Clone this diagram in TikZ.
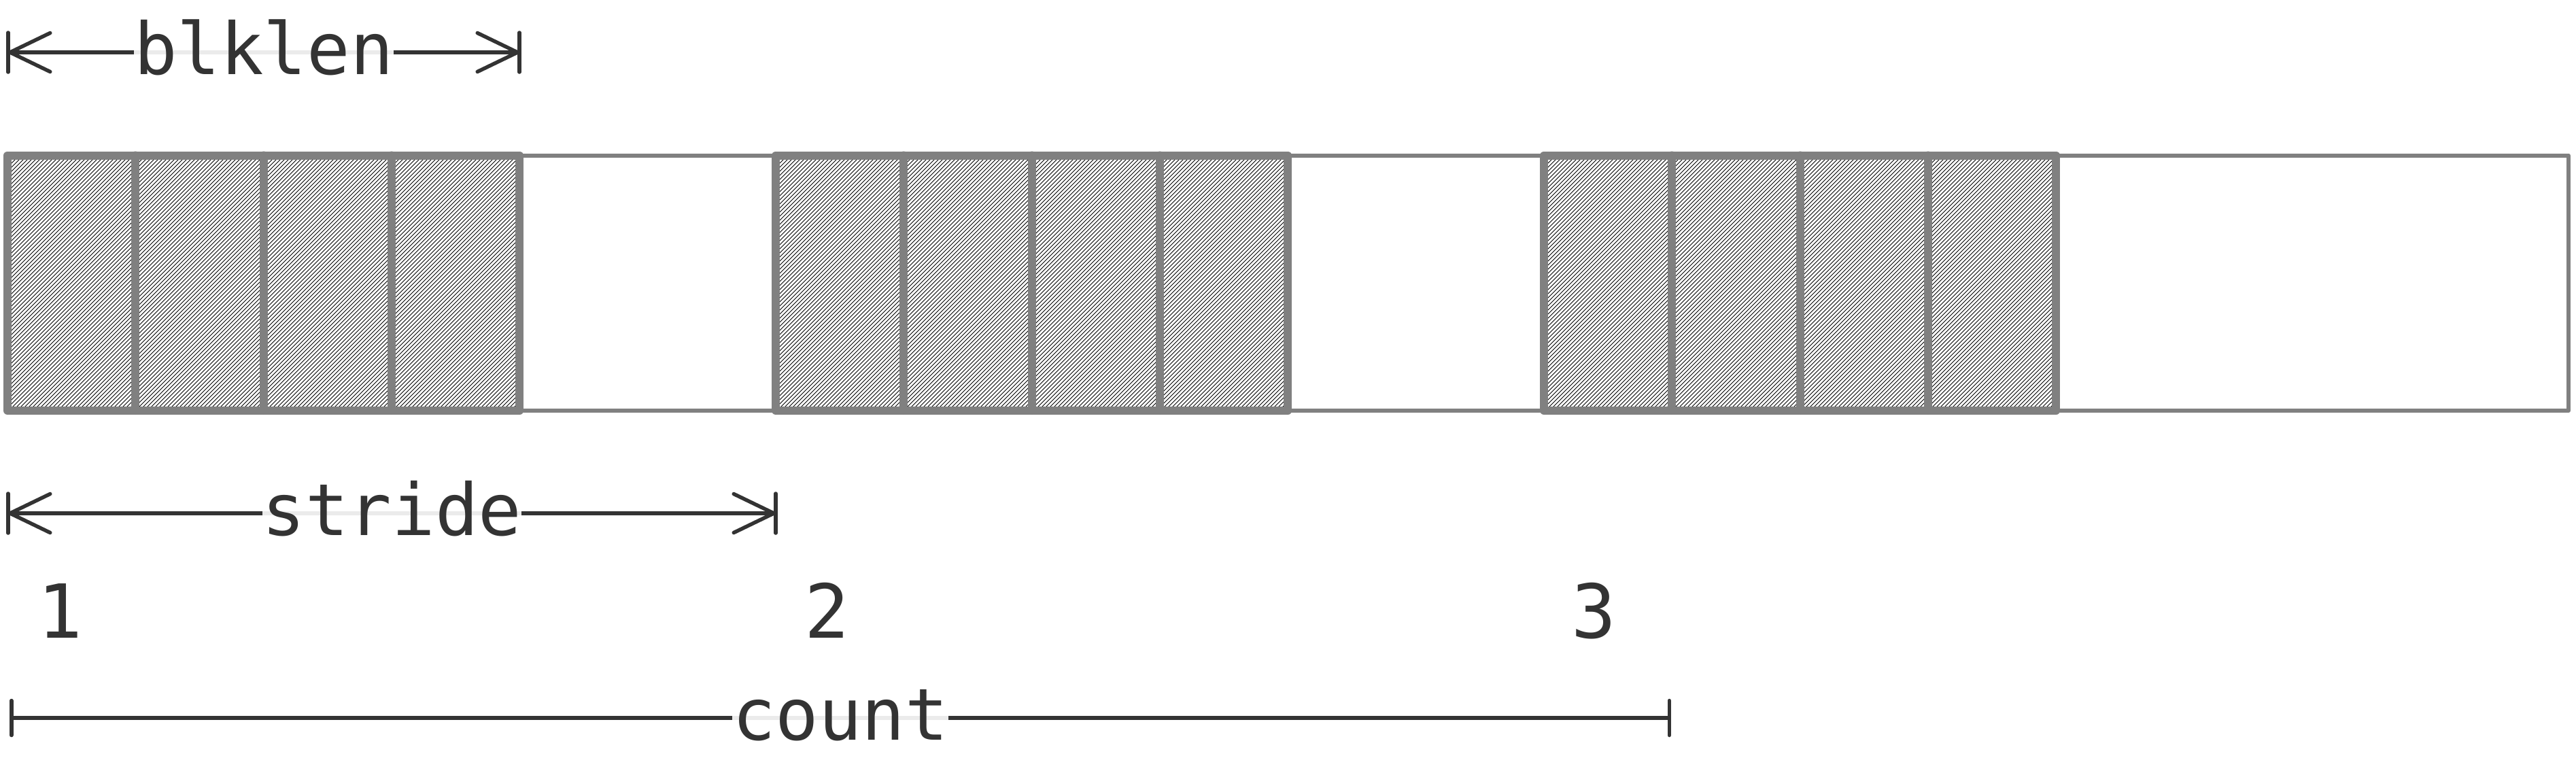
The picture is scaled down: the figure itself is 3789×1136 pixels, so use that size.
\documentclass[tikz,border=0pt]{standalone}
\usepackage{fontspec}
\newfontfamily\monof{DejaVu Sans Mono}
\usetikzlibrary{arrows.meta}
\definecolor{ink}{HTML}{333333}
\definecolor{boxgray}{HTML}{808080}
\begin{document}
\begin{tikzpicture}[x=1bp,y=-1bp,
  dimline/.style={draw=ink, line width=5.5bp, line cap=round},
  dimarrow/.style={dimline, {Straight Barb[length=59bp,width=57bp,line width=5.5bp,round]}-{Straight Barb[length=59bp,width=57bp,line width=5.5bp,round]}},
  dimbar/.style={dimline, {Bar[width=51bp,line width=5.5bp,round]}-{Bar[width=51bp,line width=5.5bp,round]}},
  endbar/.style={draw=ink, line width=5.5bp, line cap=round},
  lbl/.style={font=\monof\fontsize{106}{127}\selectfont, text=ink, fill=white, fill opacity=0.9, text opacity=1, inner sep=0pt, anchor=base, yshift=-32bp},
  num/.style={font=\monof\fontsize{110}{132}\selectfont, text=ink, inner sep=0pt, anchor=base},
  thinbox/.style={draw=boxgray, line width=6bp, line join=round},
  blockbox/.style={draw=boxgray, line width=12bp, line join=round, line cap=round},
  hatchline/.style={draw=black, line width=0.9bp}
]
\useasboundingbox (0,0) rectangle (3789,1136);
% thin outer strip
\draw[thinbox] (11,228.5) rectangle (3778,604);
% hatching of the three blocks
\foreach \bx in {11,1141,2271} {
  \begin{scope}
    \clip (\bx,228.5) rectangle ++(753.4,375.5);
    \foreach \i in {0,...,190}
      \draw[hatchline] ({\bx-375.5+6*\i},603.5) -- ({\bx+6*\i},228);
  \end{scope}
}
% block outlines and cell dividers
\foreach \bx in {11,1141,2271} {
  \draw[blockbox] (\bx,228.5) rectangle ++(753.4,375.5);
  \foreach \k in {1,2,3}
    \draw[blockbox] ({\bx+188.35*\k},228.5) -- ++(0,375.5);
}
% dimension lines
\coordinate (bA) at (12,77);
\coordinate (bB) at (764,77);
\draw[dimarrow] (bA) -- node[lbl] (blk) {blklen} (bB);
\draw[endbar] ([yshift=29bp]bA) -- ([yshift=-29bp]bA);
\draw[endbar] ([yshift=29bp]bB) -- ([yshift=-29bp]bB);
\coordinate (sA) at (12,755);
\coordinate (sB) at (1141,755);
\draw[dimarrow] (sA) -- node[lbl] (str) {stride} (sB);
\draw[endbar] ([yshift=29bp]sA) -- ([yshift=-29bp]sA);
\draw[endbar] ([yshift=29bp]sB) -- ([yshift=-29bp]sB);
\coordinate (cA) at (14,1056);
\coordinate (cB) at (2458,1056);
\draw[dimbar] (cA) -- node[lbl] (cnt) {count} (cB);
% block numbers
\node[num] (n1) at (88,938) {1};
\node[num] (n2) at (1216,938) {2};
\node[num] (n3) at (2344,938) {3};
\end{tikzpicture}
\end{document}
